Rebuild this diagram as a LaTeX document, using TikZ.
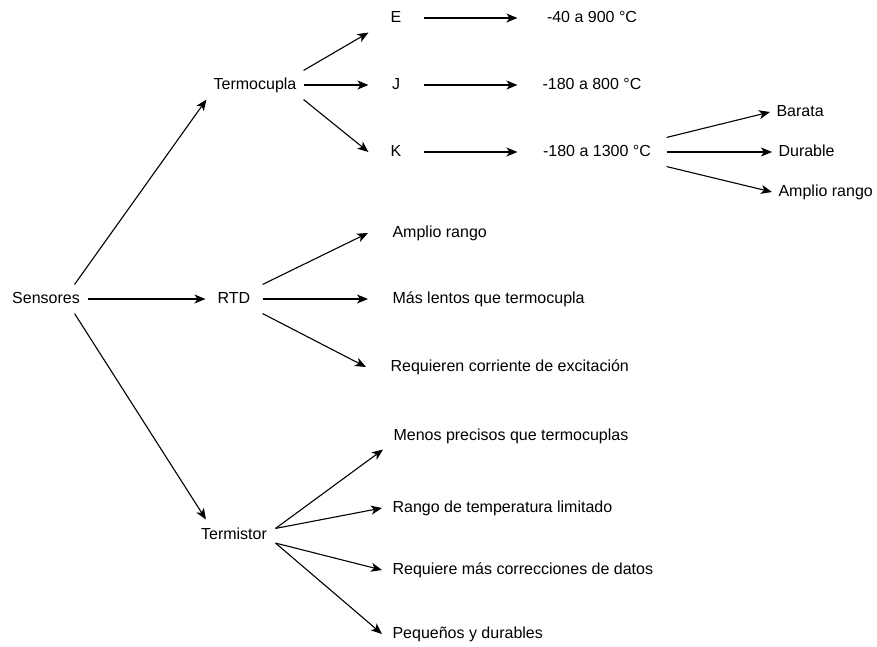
\documentclass[tikz,border=0pt]{standalone}
\usepackage{fontspec}
\setmainfont{Liberation Sans}
\usetikzlibrary{arrows.meta}

\begin{document}
\begin{tikzpicture}[x=1pt, y=-1pt, font=\fontsize{16}{19}\selectfont, line join=round, line width=1.1pt,
	>={Stealth[length=11pt, width=9pt, inset=3pt]},
	box/.style={inner sep=0pt, minimum height=28pt, text height=11.5pt, text depth=2.5pt},
	leaf/.style={anchor=west, inner xsep=24pt, inner ysep=0pt, minimum height=26pt, text height=11.5pt, text depth=2.5pt}]
	\useasboundingbox (0,0) rectangle (877,646);
	% raiz y ramas
	\node[box, minimum width=82pt] (sens) at (46,299) {Sensores};
	\node[box, minimum width=96pt] (termo) at (255,85) {Termocupla};
	\node[box, minimum width=56pt] (rtd) at (234,299) {RTD};
	\node[box, minimum width=82pt, minimum height=30pt] (termi) at (234,535) {Termistor};
	% tipos de termocupla
	\node[box, minimum width=54pt] (e) at (396,18) {E};
	\node[box, minimum width=54pt] (j) at (396,85) {J};
	\node[box, minimum width=54pt] (k) at (396,152) {K};
	\node[box, minimum width=148pt] (t1) at (592,18) {-40 a 900 °C};
	\node[box, minimum width=148pt] (t2) at (592,85) {-180 a 800 °C};
	\node[box, minimum width=148pt] (t3) at (592,152) {\hspace{10pt}-180 a 1300 °C};
	\node[leaf, inner xsep=6pt] (bar) at (770,112) {Barata};
	\node[leaf, inner xsep=6pt] (dur) at (772,152) {Durable};
	\node[leaf, inner xsep=6pt] (amp) at (772,192) {Amplio rango};
	% RTD
	\node[leaf] (r1) at (368,233) {Amplio rango};
	\node[leaf] (r2) at (368,299) {Más lentos que termocupla};
	\node[leaf] (r3) at (366,367) {Requieren corriente de excitación};
	% termistor
	\node[leaf, inner xsep=10pt] (m1) at (383,436) {Menos precisos que termocuplas};
	\node[leaf, inner xsep=10pt] (m2) at (382,508) {Rango de temperatura limitado};
	\node[leaf, inner xsep=10pt] (m3) at (382,570) {Requiere más correcciones de datos};
	\node[leaf, inner xsep=10pt] (m4) at (382,634) {Pequeños y durables};
	
	\draw[->] (sens.27.4) -- (termo.south west);
	\draw[->] (sens.east) -- (rtd.west);
	\draw[->] (sens.-27.4) -- (termi.151);
	\draw[->] (termo.north east) -- (e.south west);
	\draw[->] (termo.east) -- (j.west);
	\draw[->] (termo.south east) -- (k.west);
	\foreach \a/\b in {e/t1, j/t2, k/t3} \draw[->] (\a.east) -- (\b.west);
	\draw[->] (t3.north east) -- (bar.west);
	\draw[->] (t3.east) -- (dur.west);
	\draw[->] (t3.south east) -- (amp.west);
	\draw[->] (rtd.north east) -- (r1.west);
	\draw[->] (rtd.east) -- (r2.west);
	\draw[->] (rtd.south east) -- (r3.west);
	\draw[->] (termi.9.7) -- (m1.south west);
	\draw[->] (termi.9.7) -- (m2.west);
	\draw[->] (termi.-11) -- (m3.west);
	\draw[->] (termi.-11) -- (m4.west);
\end{tikzpicture}
\end{document}
